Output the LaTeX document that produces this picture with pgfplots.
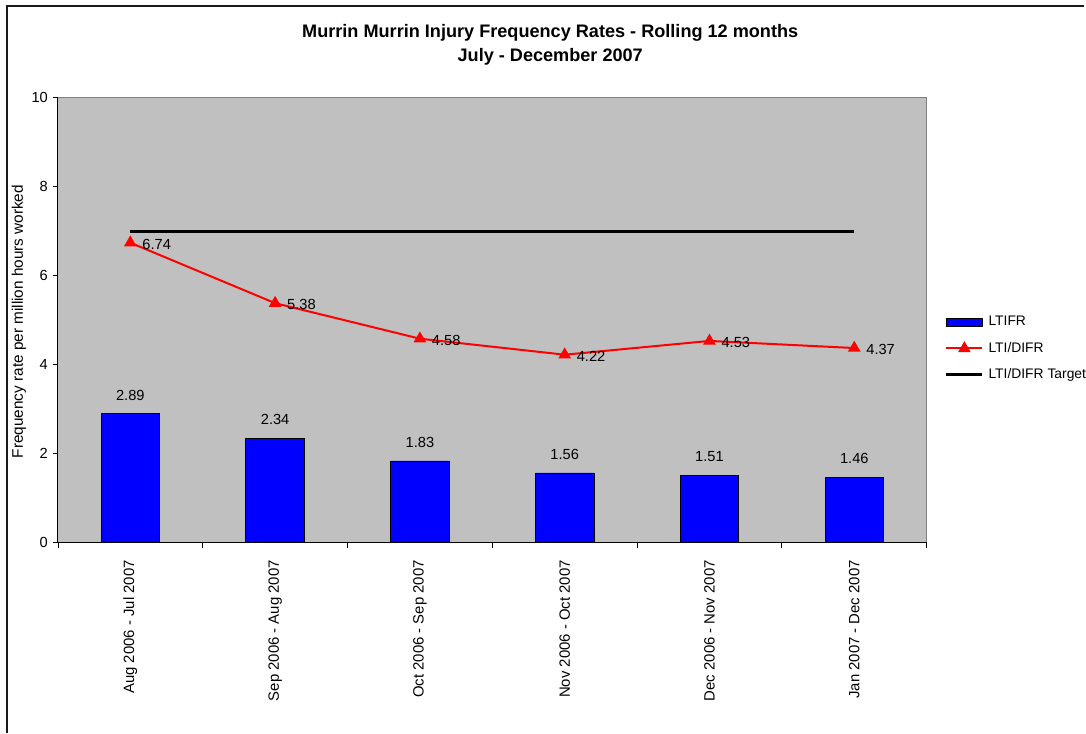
\documentclass[border=0pt]{standalone}
\usepackage{pgfplots}
\pgfplotsset{compat=1.18}
\usepackage{fontspec}
\setmainfont{Liberation Sans}
\definecolor{plotgray}{HTML}{C0C0C0}
\definecolor{bordergray}{HTML}{808080}
\definecolor{barblue}{HTML}{0000FF}
\definecolor{linered}{HTML}{FF0000}
\begin{document}
\begin{tikzpicture}[x=0.75pt,y=0.75pt]
\path (0,0) rectangle (1086,734);
\draw[line width=1.5pt, black!90] (7,0) -- (7,728) -- (1086,728);
\node[align=center, font=\fontsize{13.6}{18}\selectfont\bfseries] at (551,689)
  {Murrin Murrin Injury Frequency Rates - Rolling 12 months\\July - December 2007};
\node[rotate=90, font=\fontsize{11.5}{13}\selectfont] at (19,412) {Frequency rate per million hours worked};
\begin{axis}[
  at={(43.5pt,143.25pt)}, anchor=south west,
  scale only axis, width=652.5pt, height=333.75pt,
  xmin=-0.5, xmax=5.5, ymin=0, ymax=10,
  ytick={0,2,4,6,8,10},
  xtick={0,1,2,3,4,5},
  xticklabels={Aug 2006 - Jul 2007, Sep 2006 - Aug 2007, Oct 2006 - Sep 2007, Nov 2006 - Oct 2007, Dec 2006 - Nov 2007, Jan 2007 - Dec 2007},
  x tick label style={rotate=90, anchor=east, yshift=0pt, xshift=-6pt, font=\fontsize{11.2}{13}\selectfont},
  y tick label style={font=\fontsize{11}{13}\selectfont},
  major x tick style={draw=none},
  minor xtick={-0.5,0.5,1.5,2.5,3.5,4.5,5.5},
  minor tick length=4pt,
  major tick length=4pt,
  tick align=outside,
  tick style={black, line width=0.6pt},
  axis x line*=bottom, axis y line*=left,
  axis line style={black, line width=0.8pt, -},
  axis background/.style={fill=plotgray, draw=bordergray, line width=0.8pt},
  /pgf/number format/assume math mode=true,
  legend style={at={(1.0207,0.436)}, anchor=west, draw=none, fill=white, inner sep=0pt,
    font=\fontsize{10.4}{12}\selectfont,
    nodes={inner sep=0pt, text height=7.5pt, text depth=2pt}, row sep=10.3pt,
    /tikz/every odd column/.append style={column sep=3.5pt}},
  legend cell align=left,
  clip=false,
]
\addplot[ybar, bar width=44pt, fill=barblue, draw=black, line width=0.6pt,
  nodes near coords, every node near coord/.append style={font=\fontsize{11}{13}\selectfont, anchor=center, yshift=14pt, black},
  legend image code/.code={\draw[fill=barblue, draw=black, line width=0.6pt] (0pt,-3pt) rectangle (27pt,3pt);}]
  coordinates {(0,2.89) (1,2.34) (2,1.83) (3,1.56) (4,1.51) (5,1.46)};
\addlegendentry{LTIFR}
\addplot[linered, line width=1.5pt, mark=triangle*, mark size=4pt, mark options={solid, fill=linered, draw=linered},
  nodes near coords, every node near coord/.append style={font=\fontsize{11}{13}\selectfont, anchor=west, xshift=5pt, yshift=-1pt, black},
  legend image code/.code={\draw[linered, line width=1.5pt] (0pt,0pt) -- (27pt,0pt); \fill[linered] (13.5pt,0pt) ++(90:4pt) -- ++(-120:6.93pt) -- ++(0:6.93pt) -- cycle;}]
  coordinates {(0,6.74) (1,5.38) (2,4.58) (3,4.22) (4,4.53) (5,4.37)};
\addlegendentry{LTI/DIFR}
\addplot[black, line width=2.25pt, mark=none,
  legend image code/.code={\draw[black, line width=2.25pt] (0pt,0pt) -- (27pt,0pt);}]
  coordinates {(0,7) (1,7) (2,7) (3,7) (4,7) (5,7)};
\addlegendentry{LTI/DIFR Target}
\end{axis}
\end{tikzpicture}
\end{document}
